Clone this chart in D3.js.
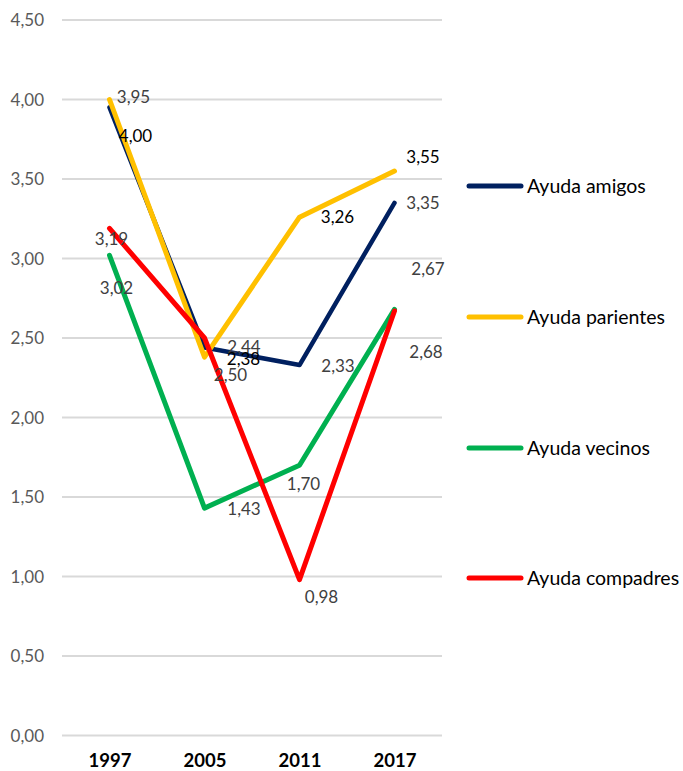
<!DOCTYPE html>
<html>
<head>
<meta charset="utf-8">
<script src="https://cdn.jsdelivr.net/npm/d3@7"></script>
<style>
  body { margin: 0; background: #fff; }
  text { font-family: "Lato", "Liberation Sans", sans-serif; }
</style>
</head>
<body>
<div id="chart"></div>
<script>
// Data
const years = ["1997", "2005", "2011", "2017"];
const seriesNames = ["Ayuda amigos", "Ayuda parientes", "Ayuda vecinos", "Ayuda compadres"];
const amigos = [3.95, 2.44, 2.33, 3.35];
const parientes = [4.00, 2.38, 3.26, 3.55];
const vecinos = [3.02, 1.43, 1.70, 2.68];
const compadres = [3.19, 2.50, 0.98, 2.67];
const yTicks = [0, 0.5, 1, 1.5, 2, 2.5, 3, 3.5, 4, 4.5];

// Label text for each point (as shown in the chart)
const amigosLabels = ["3,95", "2,44", "2,33", "3,35"];
const parientesLabels = ["4,00", "2,38", "3,26", "3,55"];
const vecinosLabels = ["3,02", "1,43", "1,70", "2,68"];
const compadresLabels = ["3,19", "2,50", "0,98", "2,67"];

// Styling
const colors = ["#002060", "#FFC000", "#00B050", "#FF0000"];
const labelColors = ["#404040", "#000000", "#404040", "#404040"];
const lineWidths = [4.5, 5, 5, 5];
// label offsets [dx, dy] relative to each point
const labelOffsets = [
  [[24, -10], [39.5, 0], [38.5, 1], [28.5, 0]],
  [[26, 37], [39, 2], [38, 0], [28.5, -14]],
  [[7, 33], [39.5, 1], [4, 19], [31.5, 42.6]],
  [[2, 10.7], [26, 37], [22, 17], [33.5, -42]]
];

const values = [amigos, parientes, vecinos, compadres];
const labels = [amigosLabels, parientesLabels, vecinosLabels, compadresLabels];

const width = 683, height = 771;
const plot = {left: 62, right: 442, top: 20, bottom: 735.5};

const svg = d3.select("#chart").append("svg")
    .attr("width", width)
    .attr("height", height);

const x = d3.scalePoint()
    .domain(years)
    .range([plot.left, plot.right])
    .padding(0.5);

const y = d3.scaleLinear()
    .domain([0, 4.5])
    .range([plot.bottom, plot.top]);

// Gridlines
svg.append("g")
    .selectAll("line")
    .data(yTicks)
    .enter().append("line")
    .attr("x1", plot.left)
    .attr("x2", plot.right)
    .attr("y1", d => y(d))
    .attr("y2", d => y(d))
    .attr("stroke", "#d9d9d9")
    .attr("stroke-width", 2);

// Y axis labels
const yAxis = d3.axisLeft(y)
    .tickValues(yTicks)
    .tickSize(0)
    .tickPadding(0)
    .tickFormat(d => d3.format(".2f")(d).replace(".", ","));

svg.append("g")
    .attr("transform", "translate(44,0)")
    .call(yAxis)
    .call(g => g.select(".domain").remove())
    .call(g => g.selectAll("text")
        .attr("fill", "#595959")
        .attr("font-size", "17px")
        .attr("dy", "0.35em"));

// X axis labels
const xAxis = d3.axisBottom(x).tickSize(0).tickPadding(0);
svg.append("g")
    .attr("transform", "translate(0,761)")
    .call(xAxis)
    .call(g => g.select(".domain").remove())
    .call(g => g.selectAll("text")
        .attr("fill", "#000")
        .attr("font-size", "18.5px")
        .attr("font-weight", "bold")
        .attr("dy", "0.35em"));

// Lines
const line = d3.line()
    .x((d, i) => x(years[i]))
    .y(d => y(d));

values.forEach((vals, s) => {
    svg.append("path")
        .datum(vals)
        .attr("d", line)
        .attr("fill", "none")
        .attr("stroke", colors[s])
        .attr("stroke-width", lineWidths[s])
        .attr("stroke-linecap", "round")
        .attr("stroke-linejoin", "round");
});

// Data labels
values.forEach((vals, s) => {
    svg.append("g")
        .selectAll("text")
        .data(vals)
        .enter().append("text")
        .attr("x", (d, i) => x(years[i]) + labelOffsets[s][i][0])
        .attr("y", (d, i) => y(d) + labelOffsets[s][i][1])
        .attr("dy", "0.35em")
        .attr("text-anchor", "middle")
        .attr("font-size", "17px")
        .attr("fill", labelColors[s])
        .text((d, i) => labels[s][i]);
});

// Legend
const legendY = [186, 317, 448, 578];
const legend = svg.append("g")
    .selectAll("g")
    .data(seriesNames)
    .enter().append("g")
    .attr("transform", (d, i) => "translate(0," + legendY[i] + ")");

legend.append("line")
    .attr("x1", 469)
    .attr("x2", 521)
    .attr("stroke", (d, i) => colors[i])
    .attr("stroke-width", 5)
    .attr("stroke-linecap", "round");

legend.append("text")
    .attr("x", 527)
    .attr("dy", "0.35em")
    .attr("font-size", "19.5px")
    .attr("fill", "#000")
    .text(d => d);
</script>
</body>
</html>
